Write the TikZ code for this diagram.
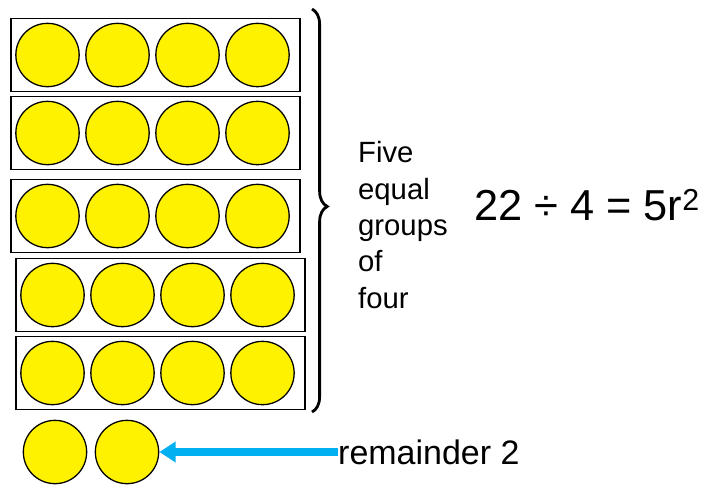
\documentclass[tikz,border=0pt]{standalone}
\usepackage{fontspec}
\setmainfont{Liberation Sans}
\usetikzlibrary{positioning,arrows.meta,decorations.pathreplacing}
\definecolor{skyblue}{RGB}{0,176,240}
\tikzset{
  counter/.style={circle, draw, fill=yellow, line width=1.1pt, minimum size=1.9cm, inner sep=0pt},
  groupbox/.style={draw, line width=1pt, minimum width=8.67cm, minimum height=2.2cm}
}
\begin{document}
\begin{tikzpicture}[x=0.03cm, y=-0.03cm]
        \useasboundingbox (0,0) rectangle (711,494);
        % Groups of four
        \foreach \row/\yy/\xx in {1/55/155.5, 2/133/155.5, 3/216/155.5, 4/295/160.5, 5/373/160.5} {
            \node (box\row) [groupbox] at (\xx,\yy) {};
            \foreach \col in {1,...,4} {
                \node (c\row\col) [counter] at ({\xx-108+(\col-1)*70},\yy) {};
            }
        }
        % Remainder
        \node (r1) [counter] at (55,452) {};
        \node (r2) [counter] at (127,452) {};
        % Brace and text
        \coordinate (bracetop) at (312,9);
        \coordinate (bracebot) at (312,412);
        \draw[line width=2.4pt, decorate, decoration={brace, amplitude=13pt, aspect=0.49}] (bracetop) -- (bracebot);
        \node (groups) [align=left, anchor=west, font=\fontsize{25}{31}\selectfont] at (354,225) {Five\\equal\\groups\\of\\four};
        \node (equation) [anchor=west, font=\fontsize{37}{40}\selectfont] at (470,205) {22 ÷ 4 = 5r\textsuperscript{2}};
        \node (remainder) [anchor=west, font=\fontsize{29}{30}\selectfont, inner sep=0pt] at (338,452) {remainder 2};
        % Arrow
        \draw[-{Triangle[length=14pt, width=17pt]}, skyblue, line width=6pt] (remainder.west) -- (r2.east);
\end{tikzpicture}
\end{document}
